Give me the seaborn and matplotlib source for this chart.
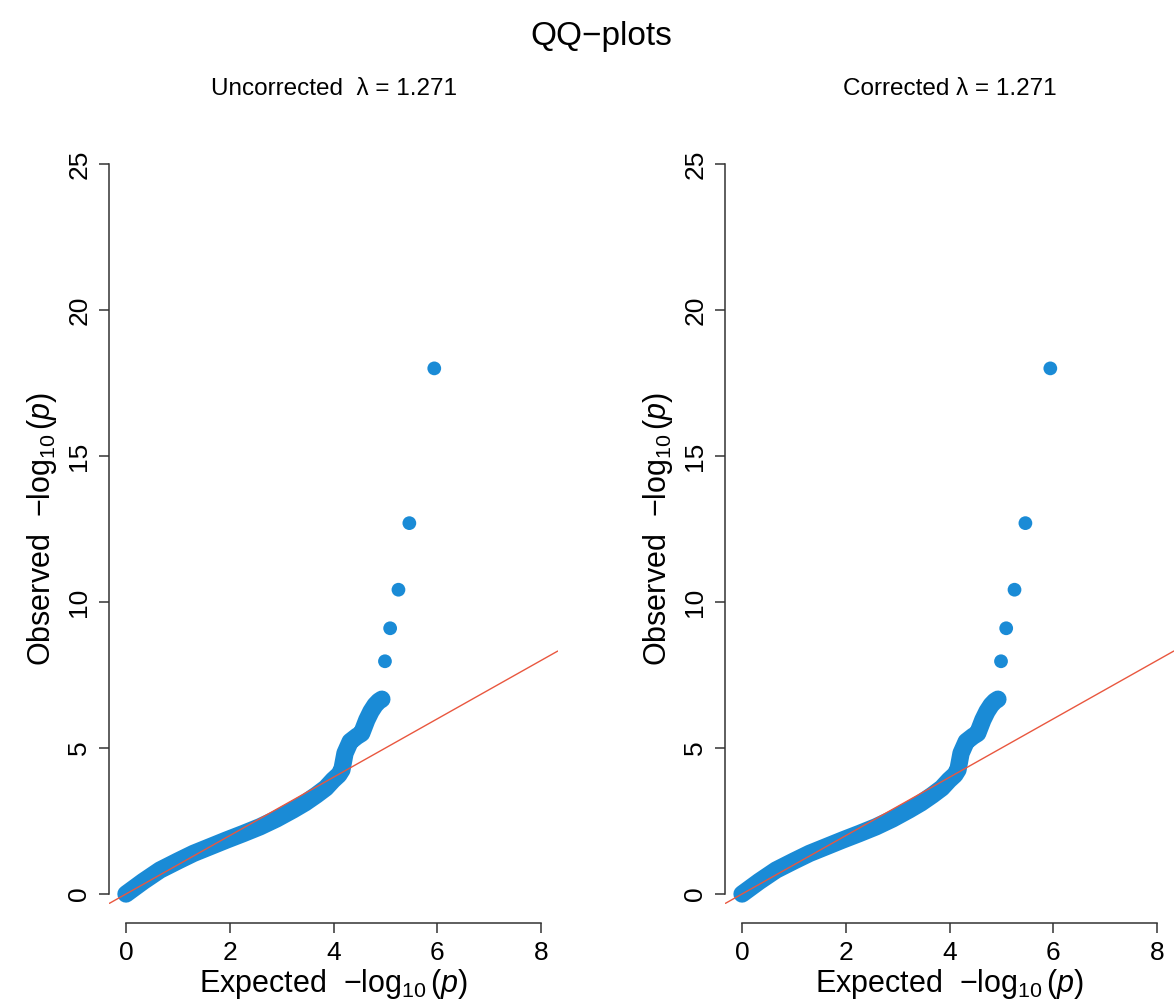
import numpy as np
import pandas as pd
from matplotlib import pyplot as plt
import seaborn as sns

# dense part of the QQ curve (expected, observed)
band_x = [0.0, 0.33, 0.655, 1.0, 1.30, 1.62, 1.94, 2.26, 2.58, 2.90, 3.22, 3.45,
          3.67, 3.85, 3.99, 4.10, 4.16, 4.22, 4.32, 4.45, 4.54, 4.64, 4.72, 4.80, 4.87, 4.93]
band_y = [0.0, 0.43, 0.82, 1.13, 1.39, 1.62, 1.85, 2.07, 2.30, 2.57, 2.88, 3.12,
          3.39, 3.63, 3.90, 4.08, 4.25, 4.82, 5.22, 5.40, 5.50, 5.96, 6.25, 6.47, 6.60, 6.67]

# separated tail points
tail_x = [4.99, 5.09, 5.25, 5.46, 5.94]
tail_y = [7.97, 9.10, 10.42, 12.70, 18.0]

panel_titles = ["Uncorrected  λ = 1.271", "Corrected λ = 1.271"]
x_ticks = [0, 2, 4, 6, 8]
y_ticks = [0, 5, 10, 15, 20, 25]

point_color = "#1a8bd6"
line_color = "#e9573f"

sns.set_style("ticks")
plt.rcParams["font.family"] = ["Liberation Sans", "DejaVu Sans"]
plt.rcParams["mathtext.fontset"] = "custom"
plt.rcParams["mathtext.rm"] = "Liberation Sans"
plt.rcParams["mathtext.it"] = "Liberation Sans:italic"
plt.rcParams["text.color"] = "black"
plt.rcParams["axes.labelcolor"] = "black"
plt.rcParams["xtick.labelcolor"] = "black"
plt.rcParams["ytick.labelcolor"] = "black"

band = pd.DataFrame({"expected": band_x, "observed": band_y})
tail = pd.DataFrame({"expected": tail_x, "observed": tail_y})

fig = plt.figure(figsize=(11.75, 10.05), dpi=100)
lefts = [0.0931, 0.6174]

for left, title in zip(lefts, panel_titles):
    ax = fig.add_axes([left, 0.0814, 0.3816, 0.7845])
    sns.lineplot(data=band, x="expected", y="observed", ax=ax, sort=False,
                 estimator=None, color=point_color, linewidth=12.5,
                 solid_capstyle="round", solid_joinstyle="round", zorder=2)
    sns.scatterplot(data=tail, x="expected", y="observed", ax=ax, s=98,
                    color=point_color, edgecolor="none", zorder=3)
    ax.axline((0, 0), slope=1, color=line_color, linewidth=1.0, zorder=4)

    ax.set_xlim(-0.32, 8.32)
    ax.set_ylim(-1, 26)
    ax.set_xticks(x_ticks)
    ax.set_yticks(y_ticks)
    ax.set_yticklabels([str(t) for t in y_ticks], rotation=90, va="center")
    sns.despine(ax=ax)
    ax.spines["bottom"].set_bounds(0, 8)
    ax.spines["left"].set_bounds(0, 25)
    for s in ["bottom", "left"]:
        ax.spines[s].set_color("#333333")
        ax.spines[s].set_linewidth(1.1)
    ax.tick_params(direction="out", length=7, width=1.1, color="#333333",
                   labelsize=19, pad=6)
    ax.set_xlabel(r"Expected  $-\log_{10}(p)$", fontsize=22, labelpad=1)
    ax.set_ylabel(r"Observed  $-\log_{10}(p)$", fontsize=22, labelpad=6)
    fig.text(left + 0.3816 / 2, 0.911, title, ha="center", va="center",
             fontsize=17.5)

fig.text(0.512, 0.964, "QQ−plots", ha="center", va="center", fontsize=24)

fig.savefig("out.png", dpi=100, facecolor="white")
